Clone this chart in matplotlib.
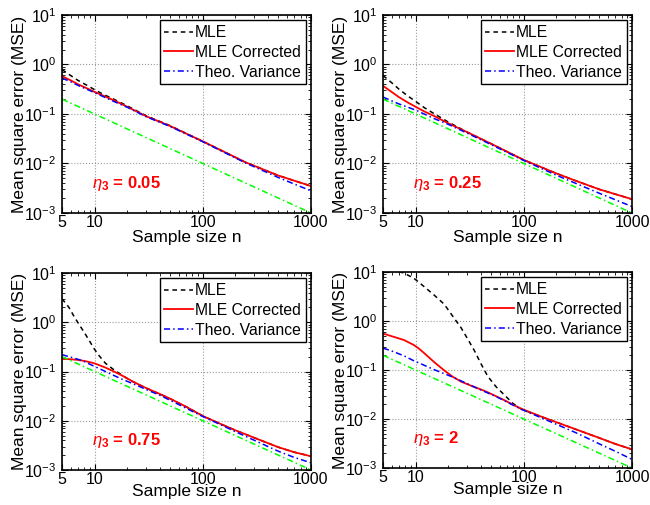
import numpy as np
import matplotlib
matplotlib.use("Agg")
import matplotlib.pyplot as plt
from matplotlib.ticker import FixedLocator, LogLocator, NullFormatter

plt.rcParams["font.family"] = ["Liberation Sans", "DejaVu Sans"]
plt.rcParams["mathtext.fontset"] = "custom"
plt.rcParams["mathtext.rm"] = "Liberation Sans"
plt.rcParams["mathtext.it"] = "Liberation Sans:italic"
plt.rcParams["mathtext.bf"] = "Liberation Sans:bold"

# green reference line (1/n)
n_ref = [5, 10, 100, 1000]
ref_line = [0.2, 0.1, 0.01, 0.001]

# eta3 = 0.05
n_a = [5, 6, 7, 8.5, 10, 12, 15, 20, 30, 50, 100, 250, 500, 1000]
mle_a = [0.79, 0.6, 0.48, 0.38, 0.31, 0.25, 0.2, 0.146, 0.092, 0.058, 0.028, 0.0105, 0.0057, 0.0035]
corr_a = [0.58, 0.48, 0.40, 0.33, 0.28, 0.235, 0.19, 0.14, 0.09, 0.057, 0.028, 0.0105, 0.0057, 0.0035]
theo_a = [0.53, 0.45, 0.38, 0.315, 0.27, 0.225, 0.18, 0.137, 0.088, 0.056, 0.0275, 0.0102, 0.0052, 0.0028]

# eta3 = 0.25
n_b = [5, 6, 7, 8.5, 10, 12, 15, 20, 30, 50, 100, 200, 300, 500, 1000]
mle_b = [0.6, 0.43, 0.32, 0.23, 0.18, 0.135, 0.1, 0.069, 0.043, 0.025, 0.0118, 0.0063, 0.0045, 0.003, 0.0019]
corr_b = [0.37, 0.28, 0.22, 0.17, 0.14, 0.113, 0.09, 0.065, 0.043, 0.025, 0.0118, 0.0063, 0.0045, 0.003, 0.0019]
theo_b = [0.22, 0.185, 0.16, 0.137, 0.12, 0.1, 0.08, 0.062, 0.041, 0.024, 0.0115, 0.0058, 0.004, 0.0025, 0.00135]

# eta3 = 0.75
n_c = [5, 5.8, 6.4, 7.15, 8, 8.9, 9.9, 11, 12.6, 15.1, 18.1, 21.6, 25.8, 30, 40, 50, 70, 100, 150, 200, 300, 500, 700, 1000]
mle_c = [3.0, 2.0, 1.36, 0.92, 0.63, 0.43, 0.29, 0.21, 0.147, 0.108, 0.083, 0.065, 0.054, 0.046, 0.035, 0.028,
         0.0193, 0.0125, 0.0084, 0.0064, 0.0045, 0.0029, 0.0023, 0.0019]
corr_c = [0.18, 0.178, 0.175, 0.171, 0.164, 0.156, 0.147, 0.135, 0.12, 0.1, 0.082, 0.066, 0.054, 0.046, 0.035, 0.028,
          0.0193, 0.0125, 0.0084, 0.0064, 0.0045, 0.0029, 0.0023, 0.0019]
theo_c = [0.22, 0.2, 0.188, 0.175, 0.16, 0.143, 0.128, 0.115, 0.1, 0.083, 0.069, 0.059, 0.05, 0.043, 0.033, 0.026,
          0.018, 0.0122, 0.0081, 0.006, 0.004, 0.0024, 0.0018, 0.0014]

# eta3 = 2
n_d = [5, 6, 7.8, 9.6, 10.7, 11.9, 14.8, 18.4, 22, 26.3, 30.3, 34.9, 40.3, 46.5, 55.7, 66.6, 79.6, 95, 146, 200, 300,
       500, 700, 1000]
mle_d = [13, 11.5, 9.5, 7.5, 6.2, 5.1, 3.4, 2.2, 1.26, 0.73, 0.43, 0.25, 0.133, 0.074, 0.045, 0.0305, 0.0207, 0.0158,
         0.0111, 0.0086, 0.0062, 0.0041, 0.0031, 0.0024]
corr_d = [0.555, 0.49, 0.41, 0.325, 0.275, 0.225, 0.146, 0.098, 0.073, 0.058, 0.051, 0.045, 0.04, 0.035, 0.029, 0.024,
          0.0195, 0.0162, 0.0111, 0.0086, 0.0062, 0.0041, 0.0031, 0.0024]
theo_d = [0.28, 0.245, 0.195, 0.155, 0.14, 0.126, 0.102, 0.084, 0.072, 0.06, 0.052, 0.045, 0.039, 0.034, 0.0285, 0.0235,
          0.0192, 0.0158, 0.0105, 0.0078, 0.0053, 0.0031, 0.0022, 0.0015]

eta_labels = ["0.05", "0.25", "0.75", "2"]
x_ticks = [5, 10, 100, 1000]
x_tick_labels = ["5", "10", "100", "1000"]

panels = [
    (n_a, mle_a, corr_a, theo_a),
    (n_b, mle_b, corr_b, theo_b),
    (n_c, mle_c, corr_c, theo_c),
    (n_d, mle_d, corr_d, theo_d),
]

fig = plt.figure(figsize=(6.5, 5.05), dpi=100)
W, H = 650, 505
boxes = [(62, 15, 311, 213), (383, 15, 632, 213), (62, 273, 311, 470), (383, 272, 632, 468)]

for k, (n, mle, corr, theo) in enumerate(panels):
    l, t, r, b = boxes[k]
    ax = fig.add_axes([l / W, 1 - b / H, (r - l) / W, (b - t) / H])
    ax.plot(n, mle, "k--", lw=1.1, dashes=(3, 2.5), label="MLE")
    ax.plot(n, corr, "r-", lw=1.3, label="MLE Corrected")
    ax.plot(n, theo, "b-.", lw=1.1, dashes=(4, 2, 1, 2), label="Theo. Variance")
    ax.plot(n_ref, ref_line, color="#00ff00", ls="-.", lw=1.1, dashes=(4, 2, 1, 2))
    ax.set_xscale("log")
    ax.set_yscale("log")
    ax.set_xlim(5, 1000)
    ax.set_ylim(1e-3, 1e1)
    ax.xaxis.set_major_locator(FixedLocator(x_ticks))
    ax.set_xticklabels(x_tick_labels)
    ax.xaxis.set_minor_locator(LogLocator(base=10, subs=np.arange(2, 10)))
    ax.xaxis.set_minor_formatter(NullFormatter())
    ax.yaxis.set_major_locator(LogLocator(base=10, numticks=10))
    ax.yaxis.set_minor_locator(LogLocator(base=10, subs=np.arange(2, 10), numticks=10))
    ax.yaxis.set_minor_formatter(NullFormatter())
    ax.tick_params(which="both", direction="in", top=True, right=True, labelsize=11.5)
    ax.tick_params(which="major", length=4, width=0.8)
    ax.tick_params(which="minor", length=2, width=0.6)
    ax.tick_params(axis="x", which="major", pad=1.5)
    ax.tick_params(axis="y", which="major", pad=4)
    ax.grid(True, which="major", ls=":", color="#999999", lw=0.8)
    for s in ax.spines.values():
        s.set_linewidth(1.2)
    ax.set_xlabel("Sample size n", fontsize=12.5)
    ax.set_ylabel("Mean square error (MSE)", fontsize=12.5)
    ax.xaxis.set_label_coords(0.5, -0.084 if k < 2 else -0.07)
    ax.yaxis.set_label_coords(-0.14, 0.5)
    ax.text(9.5, 0.004, r"$\eta_\mathbf{3}$ = " + eta_labels[k], color="red",
            fontsize=12, fontweight="bold", ha="left", va="center")
    leg = ax.legend(loc="upper right", fontsize=11.3, handlelength=1.8, handletextpad=0.15,
                    borderpad=0.3, labelspacing=0.3, fancybox=False, framealpha=1,
                    edgecolor="black", borderaxespad=0.35)
    leg.get_frame().set_linewidth(1.0)

fig.savefig("out.png", dpi=100)
